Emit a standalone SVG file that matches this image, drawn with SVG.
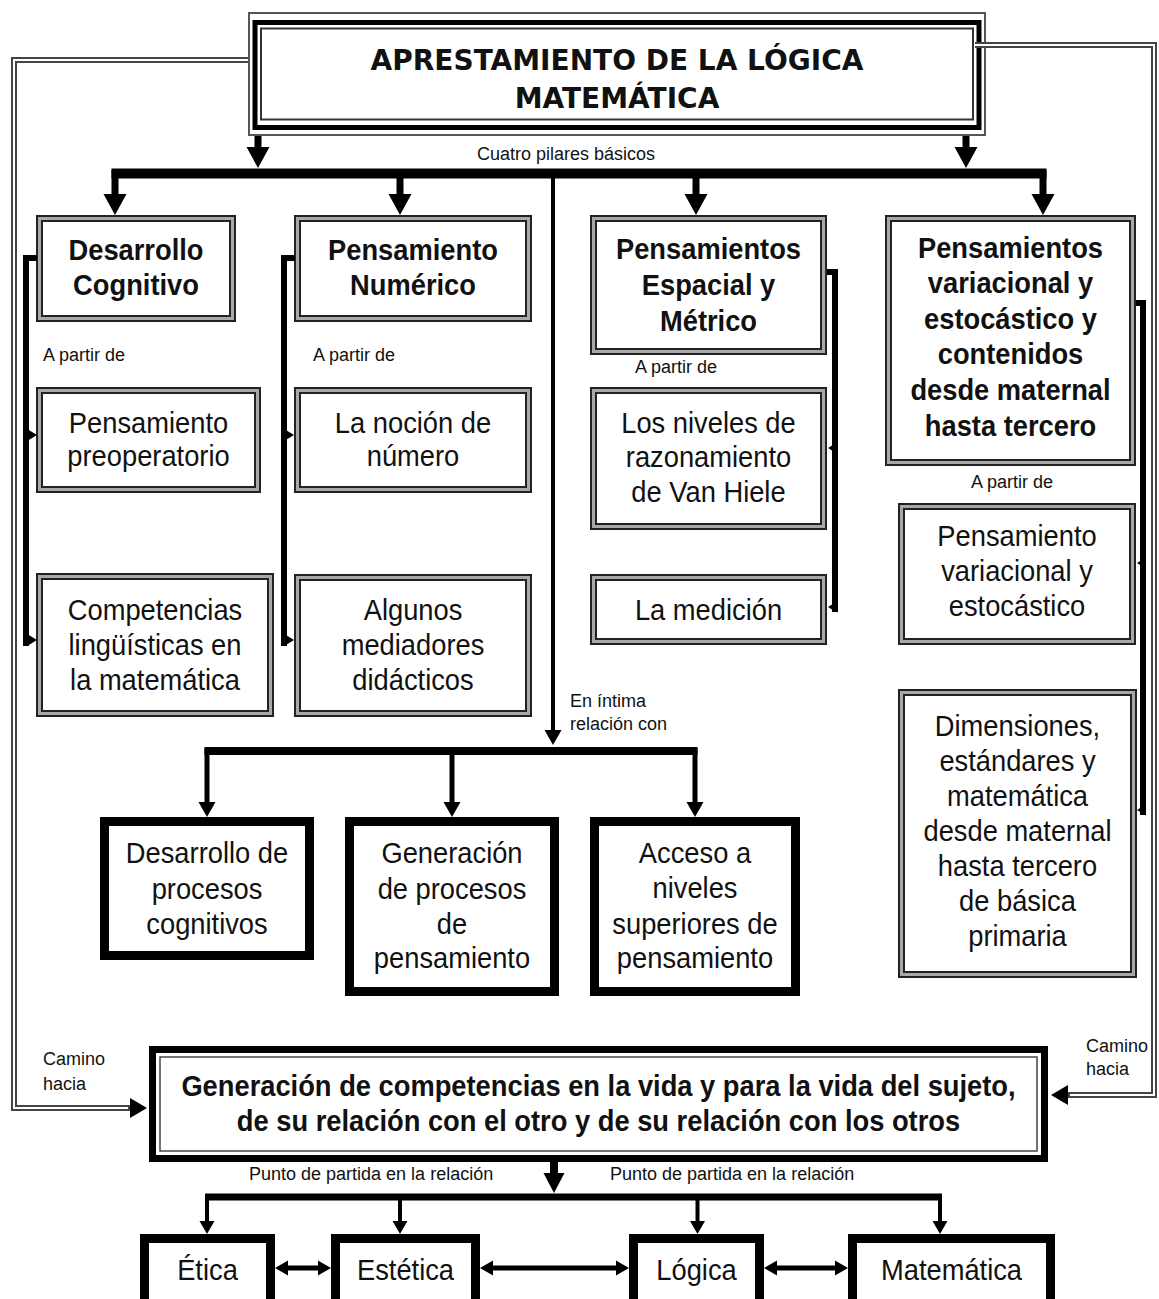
<svg xmlns="http://www.w3.org/2000/svg" width="1159" height="1299" viewBox="0 0 1159 1299">
<style>
.bg{fill:#fff}
.bo{fill:#fff;stroke:#222;stroke-width:7}
.bi{fill:none;stroke:#a8a8a8;stroke-width:3}
.thk{fill:#fff;stroke:#000;stroke-width:9}
.tx{font-family:"Liberation Sans",Arial,sans-serif;font-size:30px;text-anchor:middle;fill:#111}
.b{font-weight:bold}
.sm{font-family:"Liberation Sans",Arial,sans-serif;font-size:18px;fill:#111}
.ttl{font-family:"DejaVu Sans",Verdana,sans-serif;font-weight:bold;font-size:28px;text-anchor:middle;fill:#111}
.ln{fill:none;stroke:#000;stroke-linejoin:miter}
.dl{fill:none;stroke:#444;stroke-width:6}
.dw{fill:none;stroke:#fff;stroke-width:2}
</style>
<defs>
<marker id="mA" markerUnits="userSpaceOnUse" markerWidth="22" markerHeight="24" refX="2" refY="12" orient="auto"><path d="M0,0.5 L21,12 L0,23.5 z" fill="#000"/></marker>
<marker id="mB" markerUnits="userSpaceOnUse" markerWidth="16" markerHeight="18" refX="2" refY="9" orient="auto"><path d="M0,0.5 L15,9 L0,17.5 z" fill="#000"/></marker>
<marker id="mC" markerUnits="userSpaceOnUse" markerWidth="14" markerHeight="16" refX="2" refY="8" orient="auto-start-reverse"><path d="M0,0.5 L13,8 L0,15.5 z" fill="#000"/></marker>
<marker id="mG" markerUnits="userSpaceOnUse" markerWidth="21" markerHeight="22" refX="2" refY="11" orient="auto"><path d="M0,0.5 L20,11 L0,21.5 z" fill="#000"/></marker>
<marker id="mL" markerUnits="userSpaceOnUse" markerWidth="18" markerHeight="22" refX="2" refY="11" orient="auto"><path d="M0,1 L17,11 L0,21 z" fill="#000"/></marker>
<marker id="mS" markerUnits="userSpaceOnUse" markerWidth="10" markerHeight="12" refX="2" refY="6" orient="auto"><path d="M0,0.5 L9,6 L0,11.5 z" fill="#000"/></marker>
</defs>
<rect class="bg" x="0" y="0" width="1159" height="1299"/>

<g id="nodes">
<g id="n-title">
<rect x="249" y="13" width="736" height="122" fill="#fff" stroke="#555" stroke-width="2"/>
<rect x="255" y="22.5" width="724" height="105" fill="none" stroke="#000" stroke-width="5"/>
<rect x="261" y="28.5" width="712" height="91" fill="none" stroke="#333" stroke-width="2"/>
<text class="ttl" x="617" y="70">APRESTAMIENTO DE LA LÓGICA</text>
<text class="ttl" x="617" y="108">MATEMÁTICA</text>
</g>

<g id="n-desarrollo-cognitivo">
<rect class="bo" x="39.5" y="218.5" width="193" height="100"/><rect class="bi" x="39.5" y="218.5" width="193" height="100"/>
<g transform="translate(136 0) scale(0.91 1)"><text class="tx b" y="260">Desarrollo</text><text class="tx b" y="295">Cognitivo</text></g>
</g>
<g id="n-pensamiento-numerico">
<rect class="bo" x="297.5" y="218.5" width="231" height="100"/><rect class="bi" x="297.5" y="218.5" width="231" height="100"/>
<g transform="translate(413 0) scale(0.91 1)"><text class="tx b" y="260">Pensamiento</text><text class="tx b" y="295">Numérico</text></g>
</g>
<g id="n-espacial">
<rect class="bo" x="593.5" y="218.5" width="230" height="133"/><rect class="bi" x="593.5" y="218.5" width="230" height="133"/>
<g transform="translate(708.5 0) scale(0.91 1)"><text class="tx b" y="259">Pensamientos</text><text class="tx b" y="295">Espacial y</text><text class="tx b" y="331">Métrico</text></g>
</g>
<g id="n-variacional">
<rect class="bo" x="888.5" y="218.5" width="244" height="244"/><rect class="bi" x="888.5" y="218.5" width="244" height="244"/>
<g transform="translate(1010.5 0) scale(0.91 1)"><text class="tx b" y="258">Pensamientos</text><text class="tx b" y="293">variacional y</text><text class="tx b" y="329">estocástico y</text><text class="tx b" y="364">contenidos</text><text class="tx b" y="400">desde maternal</text><text class="tx b" y="436">hasta tercero</text></g>
</g>
<g id="n-preoperatorio">
<rect class="bo" x="39.5" y="390.5" width="218" height="99"/><rect class="bi" x="39.5" y="390.5" width="218" height="99"/>
<g transform="translate(148.5 0) scale(0.91 1)"><text class="tx" y="433">Pensamiento</text><text class="tx" y="466">preoperatorio</text></g>
</g>
<g id="n-nocion">
<rect class="bo" x="297.5" y="390.5" width="231" height="99"/><rect class="bi" x="297.5" y="390.5" width="231" height="99"/>
<g transform="translate(413 0) scale(0.91 1)"><text class="tx" y="433">La noción de</text><text class="tx" y="466">número</text></g>
</g>
<g id="n-competencias-ling">
<rect class="bo" x="39.5" y="576.5" width="231" height="137"/><rect class="bi" x="39.5" y="576.5" width="231" height="137"/>
<g transform="translate(155 0) scale(0.91 1)"><text class="tx" y="620">Competencias</text><text class="tx" y="655">lingüísticas en</text><text class="tx" y="690">la matemática</text></g>
</g>
<g id="n-mediadores">
<rect class="bo" x="297.5" y="577.5" width="231" height="136"/><rect class="bi" x="297.5" y="577.5" width="231" height="136"/>
<g transform="translate(413 0) scale(0.91 1)"><text class="tx" y="620">Algunos</text><text class="tx" y="655">mediadores</text><text class="tx" y="690">didácticos</text></g>
</g>
<g id="n-vanhiele">
<rect class="bo" x="593.5" y="390.5" width="230" height="136"/><rect class="bi" x="593.5" y="390.5" width="230" height="136"/>
<g transform="translate(708.5 0) scale(0.91 1)"><text class="tx" y="433">Los niveles de</text><text class="tx" y="467">razonamiento</text><text class="tx" y="502">de Van Hiele</text></g>
</g>
<g id="n-medicion">
<rect class="bo" x="593.5" y="577.5" width="230" height="64"/><rect class="bi" x="593.5" y="577.5" width="230" height="64"/>
<g transform="translate(708.5 0) scale(0.91 1)"><text class="tx" y="620">La medición</text></g>
</g>
<g id="n-pve">
<rect class="bo" x="901.5" y="506.5" width="231" height="135"/><rect class="bi" x="901.5" y="506.5" width="231" height="135"/>
<g transform="translate(1017 0) scale(0.91 1)"><text class="tx" y="546">Pensamiento</text><text class="tx" y="581">variacional y</text><text class="tx" y="616">estocástico</text></g>
</g>
<g id="n-dimensiones">
<rect class="bo" x="901.5" y="692.5" width="232" height="282"/><rect class="bi" x="901.5" y="692.5" width="232" height="282"/>
<g transform="translate(1017.5 0) scale(0.91 1)"><text class="tx" y="736">Dimensiones,</text><text class="tx" y="771">estándares y</text><text class="tx" y="806">matemática</text><text class="tx" y="841">desde maternal</text><text class="tx" y="876">hasta tercero</text><text class="tx" y="911">de básica</text><text class="tx" y="946">primaria</text></g>
</g>
<g id="n-procesos-cognitivos">
<rect class="thk" x="104.5" y="821.5" width="205" height="134"/>
<g transform="translate(207 0) scale(0.91 1)"><text class="tx" y="863">Desarrollo de</text><text class="tx" y="899">procesos</text><text class="tx" y="934">cognitivos</text></g>
</g>
<g id="n-generacion-procesos">
<rect class="thk" x="349.5" y="821.5" width="205" height="170"/>
<g transform="translate(452 0) scale(0.91 1)"><text class="tx" y="863">Generación</text><text class="tx" y="899">de procesos</text><text class="tx" y="934">de</text><text class="tx" y="968">pensamiento</text></g>
</g>
<g id="n-acceso">
<rect class="thk" x="594.5" y="821.5" width="201" height="170"/>
<g transform="translate(695 0) scale(0.91 1)"><text class="tx" y="863">Acceso a</text><text class="tx" y="898">niveles</text><text class="tx" y="934">superiores de</text><text class="tx" y="968">pensamiento</text></g>
</g>
<g id="n-competencias-vida">
<rect x="152.5" y="1049.5" width="892" height="109" fill="#fff" stroke="#000" stroke-width="7"/>
<rect x="160" y="1057" width="877" height="94" fill="none" stroke="#444" stroke-width="1.5"/>
<g transform="translate(598.5 0) scale(0.91 1)"><text class="tx b" y="1096">Generación de competencias en la vida y para la vida del sujeto,</text><text class="tx b" y="1131">de su relación con el otro y de su relación con los otros</text></g>
</g>
<g id="n-etica">
<rect class="thk" x="144.5" y="1238.5" width="126" height="80"/>
<g transform="translate(207.5 0) scale(0.91 1)"><text class="tx" y="1280">Ética</text></g>
</g>
<g id="n-estetica">
<rect class="thk" x="335.5" y="1238.5" width="140" height="80"/>
<g transform="translate(405.5 0) scale(0.91 1)"><text class="tx" y="1280">Estética</text></g>
</g>
<g id="n-logica">
<rect class="thk" x="633.5" y="1238.5" width="126" height="80"/>
<g transform="translate(696.5 0) scale(0.91 1)"><text class="tx" y="1280">Lógica</text></g>
</g>
<g id="n-matematica">
<rect class="thk" x="852.5" y="1238.5" width="198" height="80"/>
<g transform="translate(951.5 0) scale(0.91 1)"><text class="tx" y="1280">Matemática</text></g>
</g>
</g>

<g id="connectors">
<!-- loops -->
<path class="dl" d="M248,60 H14 V1108 H132" marker-end="url(#mL)"/>
<path class="dw" d="M248,60 H14 V1108 H128"/>
<path class="dl" d="M975,45 H1154 V1095 H1066" marker-end="url(#mL)"/>
<path class="dw" d="M975,45 H1154 V1095 H1070"/>
<!-- title to bar -->
<path class="ln" stroke-width="7" d="M258,136 V149" marker-end="url(#mA)"/>
<path class="ln" stroke-width="7" d="M966,136 V149" marker-end="url(#mA)"/>
<path class="ln" stroke-width="10" d="M111.5,173.5 H1046.5"/>
<path class="ln" stroke-width="7" d="M115,170 V196" marker-end="url(#mA)"/>
<path class="ln" stroke-width="7" d="M400,170 V196" marker-end="url(#mA)"/>
<path class="ln" stroke-width="7" d="M696,170 V196" marker-end="url(#mA)"/>
<path class="ln" stroke-width="7" d="M1043,170 V196" marker-end="url(#mA)"/>
<!-- center line -->
<path class="ln" stroke-width="4" d="M553,178 V732" marker-end="url(#mB)"/>
<path class="ln" stroke-width="8" d="M204.5,751 H697.5"/>
<path class="ln" stroke-width="5" d="M207,748 V804" marker-end="url(#mB)"/>
<path class="ln" stroke-width="5" d="M452,748 V804" marker-end="url(#mB)"/>
<path class="ln" stroke-width="5" d="M695,748 V804" marker-end="url(#mB)"/>
<!-- brackets -->
<path class="ln" stroke-width="6" d="M37,258 H26 V646"/>
<path class="ln" stroke-width="3" d="M26,435 H30" marker-end="url(#mS)"/>
<path class="ln" stroke-width="3" d="M26,640 H30" marker-end="url(#mS)"/>
<path class="ln" stroke-width="6" d="M295,258 H284 V646"/>
<path class="ln" stroke-width="3" d="M284,435 H287" marker-end="url(#mS)"/>
<path class="ln" stroke-width="3" d="M284,640 H287" marker-end="url(#mS)"/>
<path class="ln" stroke-width="6" d="M827,272 H835 V612"/>
<path class="ln" stroke-width="3" d="M838,448 H835" marker-end="url(#mS)"/>
<path class="ln" stroke-width="3" d="M838,607 H835" marker-end="url(#mS)"/>
<path class="ln" stroke-width="6" d="M1136,303 H1143 V815"/>
<path class="ln" stroke-width="3" d="M1146,563 H1144" marker-end="url(#mS)"/>
<path class="ln" stroke-width="3" d="M1146,810 H1144" marker-end="url(#mS)"/>
<!-- bottom -->
<path class="ln" stroke-width="8" d="M554,1162 V1175" marker-end="url(#mG)"/>
<path class="ln" stroke-width="7" d="M205,1197 H942"/>
<path class="ln" stroke-width="4" d="M207,1195 V1223" marker-end="url(#mC)"/>
<path class="ln" stroke-width="4" d="M400,1195 V1223" marker-end="url(#mC)"/>
<path class="ln" stroke-width="4" d="M697.5,1195 V1223" marker-end="url(#mC)"/>
<path class="ln" stroke-width="4" d="M940,1195 V1223" marker-end="url(#mC)"/>
<path class="ln" stroke-width="5" d="M286,1268 H320" marker-start="url(#mC)" marker-end="url(#mC)"/>
<path class="ln" stroke-width="5" d="M491,1268 H618" marker-start="url(#mC)" marker-end="url(#mC)"/>
<path class="ln" stroke-width="5" d="M775,1268 H837" marker-start="url(#mC)" marker-end="url(#mC)"/>
</g>

<g id="labels">
<text class="sm" x="477" y="160">Cuatro pilares básicos</text>
<text class="sm" x="43" y="361">A partir de</text>
<text class="sm" x="313" y="361">A partir de</text>
<text class="sm" x="635" y="373">A partir de</text>
<text class="sm" x="971" y="488">A partir de</text>
<text class="sm" x="570" y="707">En íntima</text>
<text class="sm" x="570" y="730">relación con</text>
<text class="sm" x="43" y="1065">Camino</text>
<text class="sm" x="43" y="1090">hacia</text>
<text class="sm" x="1086" y="1052">Camino</text>
<text class="sm" x="1086" y="1075">hacia</text>
<text class="sm" x="249" y="1180">Punto de partida en la relación</text>
<text class="sm" x="610" y="1180">Punto de partida en la relación</text>
</g>
</svg>
